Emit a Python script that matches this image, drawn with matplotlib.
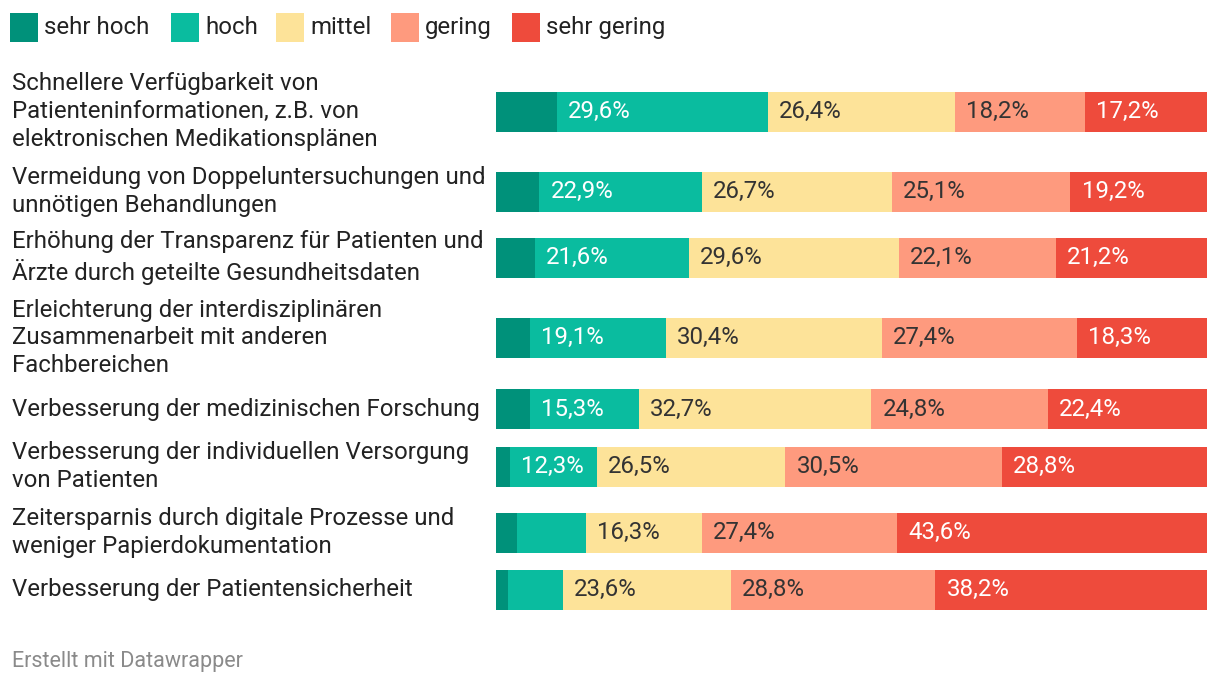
import matplotlib
matplotlib.use("Agg")
import matplotlib.pyplot as plt
from matplotlib.patches import Rectangle

plt.rcParams['font.family'] = ['Roboto', 'DejaVu Sans']

categories = [
    "Schnellere Verfügbarkeit von\nPatienteninformationen, z.B. von\nelektronischen Medikationsplänen",
    "Vermeidung von Doppeluntersuchungen und\nunnötigen Behandlungen",
    "Erhöhung der Transparenz für Patienten und\nÄrzte durch geteilte Gesundheitsdaten",
    "Erleichterung der interdisziplinären\nZusammenarbeit mit anderen\nFachbereichen",
    "Verbesserung der medizinischen Forschung",
    "Verbesserung der individuellen Versorgung\nvon Patienten",
    "Zeitersparnis durch digitale Prozesse und\nweniger Papierdokumentation",
    "Verbesserung der Patientensicherheit",
]
series_names = ["sehr hoch", "hoch", "mittel", "gering", "sehr gering"]
sehr_hoch = [8.6, 6.1, 5.5, 4.8, 4.8, 1.9, 3.0, 1.7]
hoch = [29.6, 22.9, 21.6, 19.1, 15.3, 12.3, 9.7, 7.7]
mittel = [26.4, 26.7, 29.6, 30.4, 32.7, 26.5, 16.3, 23.6]
gering = [18.2, 25.1, 22.1, 27.4, 24.8, 30.5, 27.4, 28.8]
sehr_gering = [17.2, 19.2, 21.2, 18.3, 22.4, 28.8, 43.6, 38.2]
series = [sehr_hoch, hoch, mittel, gering, sehr_gering]

colors = ["#00917a", "#0abc9f", "#fde399", "#fe9a7e", "#ee4b3c"]
text_colors = ["white", "white", "#333333", "#333333", "white"]

W, H = 1220, 684
fig = plt.figure(figsize=(W / 100, H / 100), dpi=100)
fig.patch.set_facecolor("white")

ax = fig.add_axes([496 / W, 0, 711 / W, 1])
ax.set_xlim(0, 100)
ax.set_ylim(H, 0)
ax.axis("off")

line_h = 28.7
bar_h = 40
gap = 8.5
heights = [max((c.count("\n") + 1) * line_h, bar_h) for c in categories]
centers = []
y = 111.5
for i, h in enumerate(heights):
    if i > 0:
        y = y + heights[i - 1] / 2 + h / 2 + gap
    centers.append(y)

label_fs = 17.3
for i, cat in enumerate(categories):
    left = 0
    for s, vals in enumerate(series):
        v = vals[i]
        ax.barh(centers[i], v, left=left, height=bar_h, color=colors[s], linewidth=0)
        if v >= 12:
            ax.text(left + 1.55, centers[i], f"{v:.1f}".replace(".", ",") + "%",
                    ha="left", va="center", fontsize=label_fs, color=text_colors[s])
        left += v
    fig.text(12 / W, 1 - centers[i] / H, cat, ha="left", va="center",
             fontsize=label_fs, color="#222222", linespacing=1.27)

leg_x = [10, 171, 276, 391, 512]
for name, col, lx in zip(series_names, colors, leg_x):
    fig.patches.append(Rectangle((lx / W, 1 - 41.5 / H), 28 / W, 29 / H,
                                 transform=fig.transFigure, color=col, linewidth=0))
    fig.text((lx + 34) / W, 1 - 27.5 / H, name, ha="left", va="center",
             fontsize=label_fs, color="#222222")

fig.text(12 / W, 1 - 661 / H, "Erstellt mit Datawrapper", ha="left", va="center",
         fontsize=15.5, color="#8a8a8a")

fig.savefig("out.png", dpi=100, facecolor="white")
